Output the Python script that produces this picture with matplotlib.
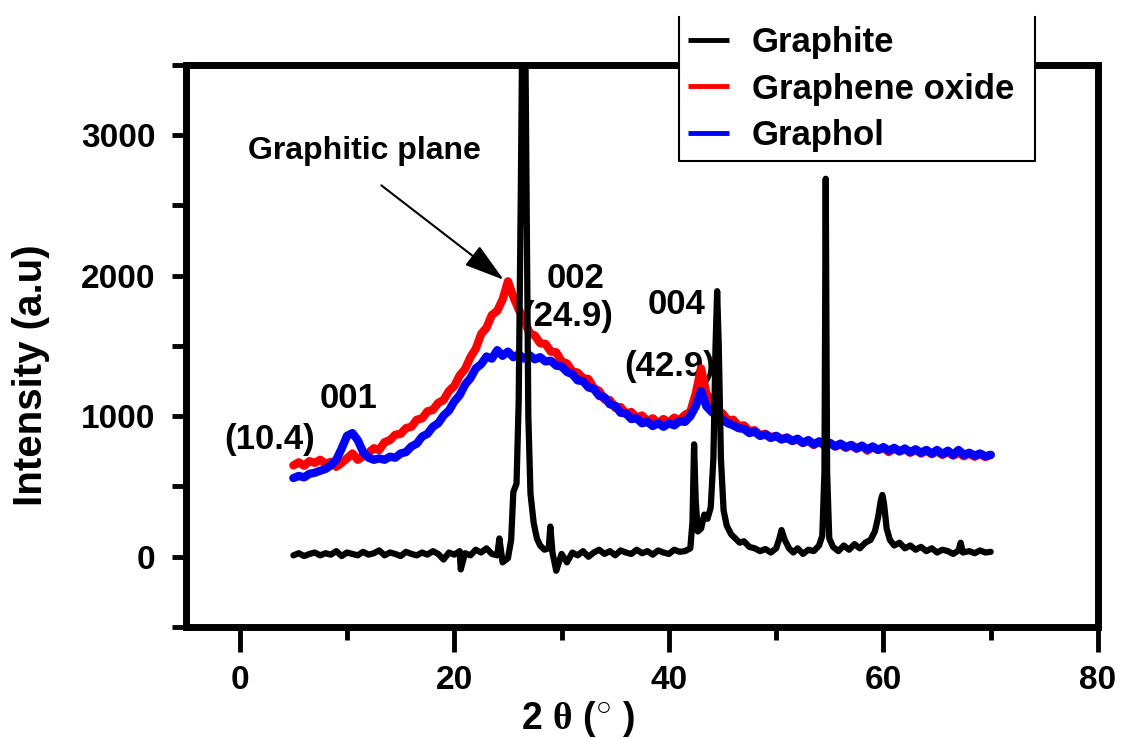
import numpy as np
import matplotlib
matplotlib.use('Agg')
import matplotlib.pyplot as plt
from matplotlib import font_manager
from matplotlib.lines import Line2D

plt.rcParams['font.family'] = 'Liberation Sans'
plt.rcParams['font.weight'] = 'bold'
plt.rcParams['mathtext.fontset'] = 'custom'
plt.rcParams['mathtext.rm'] = 'Liberation Serif'

names = {f.name for f in font_manager.fontManager.ttflist}
narrow = 'Liberation Sans Narrow' if 'Liberation Sans Narrow' in names else 'Liberation Sans'

# graphene oxide / graphol scans, 5-70 deg in 0.5 deg steps
two_theta = np.arange(5, 70.01, 0.5)

graphene_oxide = [
    650, 672, 648, 680, 668, 690, 662, 675, 640, 668,
    700, 735, 690, 715, 740, 772, 760, 815, 830, 868,
    875, 915, 925, 975, 985, 1035, 1045, 1095, 1115, 1180,
    1215, 1290, 1335, 1420, 1480, 1585, 1630, 1720, 1750, 1830,
    1960, 1850, 1760, 1690, 1590, 1575, 1520, 1515, 1460, 1455,
    1390, 1375, 1320, 1310, 1270, 1265, 1200, 1180, 1120, 1115,
    1060, 1065, 1020, 1030, 990, 1005, 965, 985, 950, 980,
    955, 990, 970, 1010, 1030, 1160, 1340, 1160, 1100, 1030,
    1020, 970, 975, 930, 935, 895, 900, 865, 875, 850,
    860, 835, 850, 825, 835, 810, 825, 795, 820, 790,
    810, 785, 800, 775, 795, 770, 790, 755, 780, 760,
    775, 745, 770, 750, 765, 740, 760, 735, 755, 730,
    750, 725, 745, 720, 740, 715, 735, 712, 730, 710,
    725,
]

graphol = [
    560, 575, 565, 590, 598, 612, 625, 650, 690, 770,
    860, 880, 830, 745, 705, 690, 700, 690, 712, 705,
    735, 745, 785, 805, 855, 875, 925, 950, 1005, 1040,
    1105, 1150, 1225, 1270, 1340, 1370, 1425, 1410, 1470, 1430,
    1460, 1420, 1440, 1410, 1435, 1405, 1420, 1390, 1395, 1360,
    1355, 1315, 1300, 1255, 1250, 1205, 1195, 1145, 1135, 1085,
    1075, 1025, 1020, 980, 985, 950, 960, 930, 950, 925,
    950, 935, 965, 960, 1000, 1070, 1180, 1070, 1030, 1000,
    975, 950, 935, 915, 910, 880, 890, 860, 870, 845,
    860, 835, 845, 825, 840, 810, 830, 800, 820, 795,
    810, 785, 805, 780, 795, 770, 790, 765, 785, 760,
    780, 755, 775, 750, 770, 745, 765, 740, 760, 735,
    760, 730, 755, 725, 760, 725, 740, 720, 735, 715,
    725,
]

# graphite scan, denser around the sharp reflections
graphite_x = [
    5, 5.5, 6, 6.5, 7, 7.5, 8, 8.5, 9, 9.5, 10, 10.5, 11, 11.5, 12, 12.5,
    13, 13.5, 14, 14.5, 15, 15.5, 16, 16.5, 17, 17.5, 18, 18.5, 19, 19.5,
    20, 20.5, 20.6, 21, 21.5, 22, 22.5, 23, 23.5, 24, 24.2, 24.5, 25,
    25.3, 25.5, 25.8, 26.0, 26.2, 26.35, 26.6, 26.75, 26.9, 27.1, 27.4,
    27.7, 28, 28.4, 28.8, 28.95, 29.15, 29.5, 30, 30.5, 31, 31.5, 32,
    32.5, 33, 33.5, 34, 34.5, 35, 35.5, 36, 36.5, 37, 37.5, 38, 38.5,
    39, 39.5, 40, 40.5, 41, 41.5, 42, 42.2, 42.35, 42.5, 42.7, 43.0,
    43.3, 43.6, 43.9, 44.15, 44.35, 44.5, 44.65, 44.85, 45.1, 45.4,
    45.8, 46.2, 46.6, 47, 47.5, 48, 48.5, 49, 49.5, 50, 50.3, 50.5,
    50.8, 51.2, 51.6, 52, 52.5, 53, 53.5, 54, 54.3, 54.5, 54.62, 54.75,
    54.95, 55.3, 55.8, 56.3, 56.8, 57.3, 57.8, 58.3, 58.8, 59.2, 59.5,
    59.75, 59.9, 60.05, 60.3, 60.6, 61, 61.5, 62, 62.5, 63, 63.5, 64,
    64.5, 65, 65.5, 66, 66.5, 67, 67.2, 67.4, 68, 68.5, 69, 69.5, 70,
]
graphite = [
    10, 25, 5, 20, 30, 10, 25, 15, 40, 5, 30, 20, 10, 35, 15, 25,
    45, 10, 30, 20, 5, 35, 20, 10, 30, 15, 40, 20, -20, 30,
    15, 40, -90, 25, 10, 50, 30, 60, 20, 10, 130, -40, -10,
    120, 460, 520, 1100, 2600, 3900, 3900, 2400, 1000, 450, 240,
    130, 80, 50, 60, 215, 30, -100, 20, -40, 30, 10, 40,
    0, 30, 50, 20, 40, 10, 45, 30, 20, 50, 25, 40, 15,
    45, 30, 20, 50, 35, 40, 60, 250, 800, 400, 180, 200,
    300, 270, 350, 700, 1500, 1890, 1500, 700, 330, 220,
    160, 130, 100, 110, 70, 60, 40, 55, 30, 60, 130, 190,
    120, 60, 30, 60, 20, 50, 40, 80, 150, 600, 2690, 600,
    130, 70, 40, 80, 50, 90, 60, 100, 120, 180, 280,
    400, 440, 380, 200, 120, 80, 100, 60, 80, 50, 70, 40,
    60, 30, 50, 40, 20, 45, 100, 30, 40, 25, 45, 30, 35,
]

fig = plt.figure(figsize=(11.21, 7.38), dpi=100)
ax = fig.add_axes([0.166, 0.1504, 0.8135, 0.7616])

l_go, = ax.plot(two_theta, graphene_oxide, color='red', lw=6, zorder=3,
                label='Graphene oxide', solid_joinstyle='round',
                solid_capstyle='round')
l_gl, = ax.plot(two_theta, graphol, color='blue', lw=6, zorder=4,
                label='Graphol', solid_joinstyle='round',
                solid_capstyle='round')
l_gr, = ax.plot(graphite_x, graphite, color='black', lw=4.5, zorder=5,
                label='Graphite', solid_joinstyle='round',
                solid_capstyle='round')

ax.set_xlim(-5, 80)
ax.set_ylim(-500, 3500)
ax.set_xticks([0, 20, 40, 60, 80])
ax.set_xticks([10, 30, 50, 70], minor=True)
ax.set_yticks([0, 1000, 2000, 3000])
ax.set_yticks([-500, 500, 1500, 2500, 3500], minor=True)

for s in ax.spines.values():
    s.set_linewidth(5)
ax.tick_params(axis='both', which='both', direction='out', width=3.5)
ax.tick_params(axis='x', which='major', length=18, pad=9)
ax.tick_params(axis='x', which='minor', length=9)
ax.tick_params(axis='y', which='both', length=10, pad=12, labelsize=24)
for lab in ax.get_xticklabels():
    lab.set_fontfamily(narrow)
    lab.set_fontsize(24)
    lab.set_fontweight('bold')

ax.set_ylabel('Intensity (a.u)', fontsize=29, fontweight='bold')
ax.yaxis.set_label_coords(-0.149, 0.448)
ax.set_xlabel(r'2 $\mathrm{\theta}$ ($^{\bigcirc}$ )', fontsize=27,
              fontweight='bold', fontfamily=narrow)
ax.xaxis.set_label_coords(0.43, -0.128)

# peak labels
ax.text(31.3, 1979, '002', fontsize=25, ha='center', va='center', zorder=1)
ax.text(30.6, 1707, '(24.9)', fontsize=25, ha='center', va='center', zorder=1)
ax.text(40.7, 1793, '004', fontsize=25, ha='center', va='center', zorder=1)
ax.text(40.1, 1357, '(42.9)', fontsize=25, ha='center', va='center', zorder=1)
ax.text(10.1, 1129, '001', fontsize=25, ha='center', va='center', zorder=1)
ax.text(2.8, 836, '(10.4)', fontsize=25, ha='center', va='center', zorder=1)

ax.text(11.6, 2886, 'Graphitic plane', fontsize=23, ha='center', va='center')
ax.annotate('', xy=(24.6, 1971), xytext=(13.2, 2643),
            arrowprops=dict(arrowstyle='-|>,head_length=1.0,head_width=0.3',
                            mutation_scale=25, lw=1.5, color='black',
                            shrinkA=0, shrinkB=0))

leg = ax.legend(handles=[l_gr, l_go, l_gl], loc='upper left',
                bbox_to_anchor=(0.6057, 0.779, 0.3175, 0.198),
                bbox_transform=fig.transFigure, mode='expand',
                fontsize=25, handlelength=1.2, handletextpad=0.65,
                labelspacing=0.4, borderpad=0.25, borderaxespad=0,
                fancybox=False, framealpha=1)
leg.get_frame().set_edgecolor('none')
for h in leg.legend_handles:
    h.set_linewidth(3.5)
    h.set_solid_capstyle('butt')

# legend box drawn open at the top
fig.canvas.draw()
bb = leg.get_frame().get_window_extent().transformed(fig.transFigure.inverted())
fig.add_artist(Line2D([bb.x0, bb.x0, bb.x1, bb.x1], [bb.y1, bb.y0, bb.y0, bb.y1],
                      transform=fig.transFigure, color='black', lw=1.5))

plt.savefig('out.png', dpi=100)
